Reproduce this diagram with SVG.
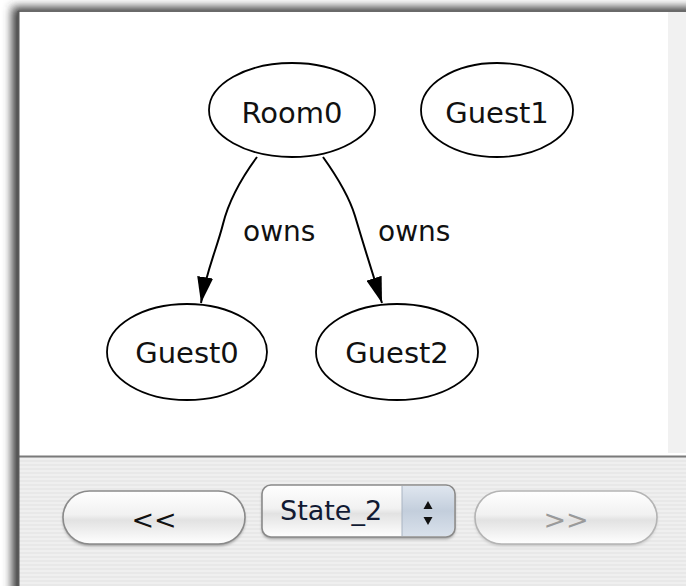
<svg xmlns="http://www.w3.org/2000/svg" width="686" height="586" viewBox="0 0 686 586">
  <defs>
    <style>
      .node ellipse { fill: #ffffff; stroke: #000000; stroke-width: 1.8; }
      .node text { font-family: "DejaVu Sans", "Liberation Sans", sans-serif; font-size: 29px; fill: #111111; text-anchor: middle; }
      .edge { fill: none; stroke: #000000; stroke-width: 2; }
      .elabel { font-family: "DejaVu Sans", "Liberation Sans", sans-serif; font-size: 28px; fill: #111111; }
      .btn { stroke: #8a8a8a; stroke-width: 1.6; fill: url(#aqua); }
      .btntext { font-family: "DejaVu Sans", "Liberation Sans", sans-serif; font-size: 27px; }
    </style>
    <marker id="arrow" viewBox="0 0 26 16" refX="26" refY="8" markerWidth="26" markerHeight="16" markerUnits="userSpaceOnUse" orient="auto">
      <path d="M0,0 L26,8 L0,16 z" fill="#000000"/>
    </marker>
    <linearGradient id="aqua" x1="0" y1="0" x2="0" y2="1">
      <stop offset="0" stop-color="#ffffff"/>
      <stop offset="0.45" stop-color="#f1f1f1"/>
      <stop offset="0.55" stop-color="#e2e2e2"/>
      <stop offset="1" stop-color="#ffffff"/>
    </linearGradient>
    <linearGradient id="stepper" x1="0" y1="0" x2="0" y2="1">
      <stop offset="0" stop-color="#dfe6ef"/>
      <stop offset="0.5" stop-color="#c3cedc"/>
      <stop offset="1" stop-color="#d9e1eb"/>
    </linearGradient>
    <pattern id="pinstripe" width="8" height="4" patternUnits="userSpaceOnUse">
      <rect width="8" height="4" fill="#efefef"/>
      <rect width="8" height="2" fill="#e8e8e8"/>
    </pattern>
    <filter id="soft" x="-10%" y="-10%" width="120%" height="120%">
      <feGaussianBlur stdDeviation="5"/>
    </filter>
    <filter id="btnshadow" x="-10%" y="-20%" width="120%" height="150%">
      <feGaussianBlur stdDeviation="1.5"/>
    </filter>
  </defs>

  <!-- window background and drop shadow -->
  <rect width="686" height="586" fill="#ffffff"/>
  <rect x="12" y="7" width="700" height="600" fill="#3a3a3a" filter="url(#soft)"/>

  <!-- canvas area -->
  <rect x="19" y="12" width="667" height="444" fill="#ffffff"/>
  <rect x="668" y="12" width="18" height="441" fill="#f1f1f1"/>
  <line x1="18" y1="11" x2="686" y2="11" stroke="#6a6a6a" stroke-width="2"/>

  <!-- control bar -->
  <rect x="19" y="456" width="667" height="130" fill="url(#pinstripe)"/>
  <line x1="18" y1="456.5" x2="686" y2="456.5" stroke="#7a7a7a" stroke-width="2"/>
  <line x1="18.5" y1="11" x2="18.5" y2="586" stroke="#5a5a5a" stroke-width="2"/>

  <!-- connectors -->
  <g id="edges">
    <path class="edge" d="M257,157 C240,180 229,200 223,224 S206,272 201,303" marker-end="url(#arrow)"/>
    <path class="edge" d="M323,157 C338,178 349,196 355,216 S372,272 382,303" marker-end="url(#arrow)"/>
    <text class="elabel" x="243" y="241">owns</text>
    <text class="elabel" x="378" y="241">owns</text>
  </g>

  <!-- nodes -->
  <g id="Room0" class="node">
    <ellipse cx="292" cy="110" rx="83" ry="47"/>
    <text x="292" y="123">Room0</text>
  </g>
  <g id="Guest1" class="node">
    <ellipse cx="497" cy="110" rx="76" ry="47"/>
    <text x="497" y="123">Guest1</text>
  </g>
  <g id="Guest0" class="node">
    <ellipse cx="187" cy="352" rx="80" ry="48"/>
    <text x="187" y="363">Guest0</text>
  </g>
  <g id="Guest2" class="node">
    <ellipse cx="397" cy="352" rx="81" ry="48"/>
    <text x="397" y="363">Guest2</text>
  </g>

  <!-- navigation controls -->
  <g id="prev">
    <rect x="63" y="493" width="182" height="53" rx="26.5" fill="#9a9a9a" filter="url(#btnshadow)"/>
    <rect class="btn" x="63" y="491" width="182" height="53" rx="26.5"/>
    <text class="btntext" x="154" y="529" fill="#111111" text-anchor="middle" font-size="30">&lt;&lt;</text>
  </g>
  <g id="state">
    <rect x="262" y="487" width="193" height="52" rx="9" fill="#9a9a9a" filter="url(#btnshadow)"/>
    <rect x="262" y="485" width="193" height="52" rx="9" fill="url(#aqua)"/>
    <path d="M402,486 H446 A8,8 0 0 1 454,494 V528 A8,8 0 0 1 446,536 H402 Z" fill="url(#stepper)"/>
    <line x1="402" y1="486" x2="402" y2="536" stroke="#a9b4c2" stroke-width="1"/>
    <rect x="262" y="485" width="193" height="52" rx="9" fill="none" stroke="#8a8a8a" stroke-width="1.6"/>
    <text class="btntext" x="280" y="520" fill="#111a33" text-anchor="start">State_2</text>
    <path d="M428,501 L432.5,509 L423.5,509 Z" fill="#111111"/>
    <path d="M428,525 L432.5,517 L423.5,517 Z" fill="#111111"/>
  </g>
  <g id="next">
    <rect x="475" y="493" width="182" height="53" rx="26.5" fill="#c4c4c4" filter="url(#btnshadow)"/>
    <rect x="475" y="491" width="182" height="53" rx="26.5" fill="url(#aqua)" stroke="#b4b4b4" stroke-width="1.6"/>
    <text class="btntext" x="566" y="529" fill="#9a9a9a" text-anchor="middle" font-size="30">&gt;&gt;</text>
  </g>
</svg>
